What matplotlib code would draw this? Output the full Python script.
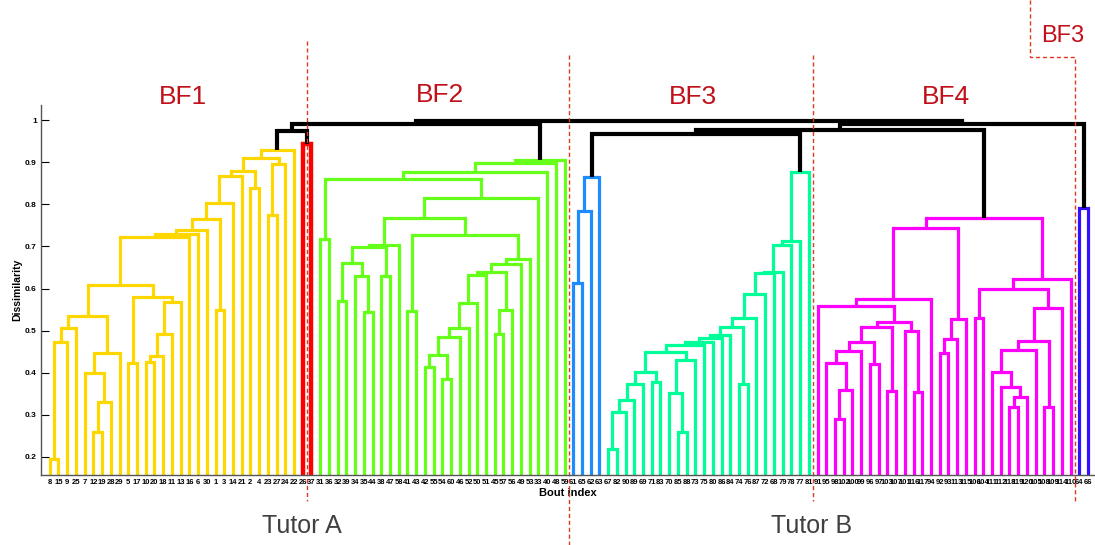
import matplotlib
matplotlib.use('Agg')
import matplotlib.pyplot as plt
from matplotlib.transforms import blended_transform_factory

plt.rcParams['font.family'] = ['Liberation Sans', 'DejaVu Sans']

# bout numbers of the leaves, left to right, per cluster
bf1_leaves = [8, 15, 9, 25, 7, 12, 19, 28, 29, 5, 17, 10, 20, 18, 11, 13, 16,
              6, 30, 1, 3, 14, 21, 2, 4, 23, 27, 24, 22]
red_leaves = [26, 37]
bf2_leaves = [31, 36, 32, 39, 34, 35, 44, 38, 47, 58, 41, 43, 42, 55, 54, 60,
              46, 52, 50, 51, 45, 57, 56, 49, 53, 33, 40, 48, 59]
blue_leaves = [61, 65, 62, 63]
bf3_leaves = [67, 82, 90, 89, 69, 71, 83, 70, 85, 88, 73, 75, 80, 86, 84, 74,
              76, 87, 72, 68, 79, 78, 77, 81]
bf4_leaves = [91, 95, 98, 102, 100, 99, 96, 97, 103, 107, 101, 116, 117, 94,
              92, 93, 113, 115, 106, 104, 111, 112, 118, 119, 120, 105, 108,
              109, 114, 110]
navy_leaves = [64, 66]

# linkage rows (a, b, dissimilarity): ids < n are leaves, id n+k is row k
bf1_links = [(0, 1, 0.194), (29, 2, 0.473), (30, 3, 0.507), (5, 6, 0.260),
             (32, 7, 0.331), (4, 33, 0.400), (34, 8, 0.446), (31, 35, 0.534),
             (9, 10, 0.422), (11, 12, 0.426), (38, 13, 0.439), (39, 14, 0.493),
             (40, 15, 0.568), (37, 41, 0.580), (36, 42, 0.608), (43, 16, 0.723),
             (44, 17, 0.729), (45, 18, 0.739), (19, 20, 0.549), (46, 47, 0.766),
             (48, 21, 0.804), (49, 22, 0.867), (23, 24, 0.838), (50, 51, 0.880),
             (25, 26, 0.774), (53, 27, 0.897), (52, 54, 0.909), (55, 28, 0.929)]
red_links = [(0, 1, 0.943)]
bf2_links = [(0, 1, 0.717), (2, 3, 0.570), (5, 6, 0.545), (4, 31, 0.629),
             (30, 32, 0.661), (7, 8, 0.629), (33, 34, 0.698), (35, 9, 0.704),
             (10, 11, 0.546), (12, 13, 0.414), (14, 15, 0.384), (38, 39, 0.442),
             (40, 16, 0.484), (41, 17, 0.507), (42, 18, 0.565), (43, 19, 0.632),
             (20, 21, 0.493), (45, 22, 0.549), (44, 46, 0.640), (47, 23, 0.658),
             (48, 24, 0.671), (37, 49, 0.727), (36, 50, 0.767), (51, 25, 0.816),
             (29, 52, 0.860), (53, 26, 0.876), (54, 27, 0.899), (55, 28, 0.905)]
blue_links = [(0, 1, 0.614), (4, 2, 0.785), (5, 3, 0.864)]
bf3_links = [(0, 1, 0.220), (24, 2, 0.307), (25, 3, 0.335), (26, 4, 0.373),
             (5, 6, 0.378), (27, 28, 0.402), (8, 9, 0.260), (7, 30, 0.351),
             (31, 10, 0.430), (29, 32, 0.450), (33, 11, 0.466), (34, 12, 0.473),
             (35, 13, 0.483), (36, 14, 0.489), (15, 16, 0.374), (37, 38, 0.509),
             (39, 17, 0.529), (40, 18, 0.587), (41, 19, 0.636), (42, 20, 0.640),
             (43, 21, 0.703), (44, 22, 0.712), (45, 23, 0.876)]
bf4_links = [(2, 3, 0.289), (30, 4, 0.360), (1, 31, 0.424), (32, 5, 0.451),
             (6, 7, 0.420), (33, 34, 0.472), (8, 9, 0.357), (35, 36, 0.509),
             (11, 12, 0.355), (10, 38, 0.500), (37, 39, 0.521), (0, 40, 0.558),
             (41, 13, 0.575), (14, 15, 0.446), (43, 16, 0.481), (44, 17, 0.527),
             (42, 45, 0.743), (18, 19, 0.529), (22, 23, 0.318), (48, 24, 0.343),
             (21, 49, 0.367), (20, 50, 0.402), (51, 25, 0.454), (26, 27, 0.318),
             (52, 53, 0.475), (54, 28, 0.554), (47, 55, 0.600), (56, 29, 0.622),
             (46, 57, 0.768)]
navy_links = [(0, 1, 0.791)]

# joins between the seven clusters (ids 0-6 are the cluster roots)
top_links = [(0, 1, 0.975), (7, 2, 0.990), (3, 4, 0.968), (9, 5, 0.976),
             (10, 6, 0.991), (8, 11, 0.997)]

clusters = [
    (bf1_leaves, bf1_links, '#FFD700', 2.3),
    (red_leaves, red_links, '#FF0000', 3.2),
    (bf2_leaves, bf2_links, '#66FF1A', 2.3),
    (blue_leaves, blue_links, '#1E8CFF', 2.3),
    (bf3_leaves, bf3_links, '#00FF99', 2.3),
    (bf4_leaves, bf4_links, '#FF00FF', 2.3),
    (navy_leaves, navy_links, '#3311FF', 2.3),
]


def draw_links(ax, links, xs, hs, color, lw):
    xs = list(xs)
    hs = list(hs)
    for a, b, h in links:
        ax.plot([xs[a], xs[a], xs[b], xs[b]], [hs[a], h, h, hs[b]],
                color=color, lw=lw, solid_joinstyle='miter',
                solid_capstyle='butt')
        xs.append((xs[a] + xs[b]) / 2)
        hs.append(h)
    return xs[-1], hs[-1]


fig = plt.figure(figsize=(10.95, 5.45), dpi=100)
ax = fig.add_axes([41 / 1095, 0.1284, 1 - 41 / 1095, 0.6789])

labels = []
roots_x, roots_h = [], []
start = 0
for leaves, links, color, lw in clusters:
    n = len(leaves)
    xs = [start + i + 1 for i in range(n)]
    rx, rh = draw_links(ax, links, xs, [0] * n, color, lw)
    roots_x.append(rx)
    roots_h.append(rh)
    labels += [str(v) for v in leaves]
    start += n

draw_links(ax, top_links, roots_x, roots_h, 'black', 3.0)

ax.set_xlim(0, start + 0.8)
ax.set_ylim(0.157, 1.036)
ax.set_xticks(range(1, start + 1))
ax.set_xticklabels(labels, fontsize=5.5, fontweight='bold')
ax.set_yticks([0.2, 0.3, 0.4, 0.5, 0.6, 0.7, 0.8, 0.9, 1.0])
ax.set_yticklabels(['0.2', '0.3', '0.4', '0.5', '0.6', '0.7', '0.8', '0.9', '1'],
                   fontsize=6, fontweight='bold')
ax.tick_params(axis='x', length=0, pad=3)
ax.tick_params(axis='y', direction='in', length=6, width=0.8, pad=3)
for s in ['top', 'right']:
    ax.spines[s].set_visible(False)
for s in ['left', 'bottom']:
    ax.spines[s].set_color('#555555')
    ax.spines[s].set_linewidth(1.0)
ax.set_xlabel('Bout index', fontsize=8, fontweight='bold', labelpad=1)
ax.set_ylabel('Dissimilarity', fontsize=7.5, fontweight='bold', labelpad=2)

# dashed separators between the song groups
trans = blended_transform_factory(ax.transData, fig.transFigure)
dash = dict(color='#DD3A1E', lw=1.0, linestyle=(0, (3, 2)), clip_on=False)
n1 = len(bf1_leaves)
n_a = len(bf1_leaves) + len(red_leaves) + len(bf2_leaves)
n_b = n_a + len(blue_leaves) + len(bf3_leaves)
n_c = n_b + len(bf4_leaves)
ax.plot([n1 + 1.5, n1 + 1.5], [0.925, 0.08], transform=trans, **dash)
ax.plot([n_a + 0.5, n_a + 0.5], [0.90, 0.0], transform=trans, **dash)
ax.plot([n_b + 0.5, n_b + 0.5], [0.90, 0.08], transform=trans, **dash)
ax.plot([113.4, 113.4, n_c + 0.5, n_c + 0.5], [1.0, 0.895, 0.895, 0.08],
        transform=trans, **dash)

red_txt = '#C0101A'
fig.text(183 / 1095, 0.822, 'BF1', color=red_txt, fontsize=19, ha='center', va='center')
fig.text(440 / 1095, 0.826, 'BF2', color=red_txt, fontsize=19, ha='center', va='center')
fig.text(693 / 1095, 0.822, 'BF3', color=red_txt, fontsize=19, ha='center', va='center')
fig.text(946 / 1095, 0.822, 'BF4', color=red_txt, fontsize=19, ha='center', va='center')
fig.text(1063 / 1095, 0.934, 'BF3', color=red_txt, fontsize=17, ha='center', va='center')
fig.text(302 / 1095, 0.035, 'Tutor A', color='#404040', fontsize=18, ha='center', va='center')
fig.text(812 / 1095, 0.035, 'Tutor B', color='#404040', fontsize=18, ha='center', va='center')

fig.savefig('out.png', dpi=100)
